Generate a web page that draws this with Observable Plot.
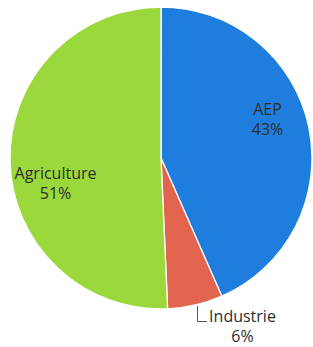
<!DOCTYPE html>
<html>
<head>
<meta charset="utf-8">
<script src="https://cdn.jsdelivr.net/npm/d3@7"></script>
<script src="https://cdn.jsdelivr.net/npm/@observablehq/plot@0.6"></script>
<style>
  html, body { margin: 0; padding: 0; background: #ffffff; }
  svg { display: block; }
</style>
</head>
<body>
<div id="chart"></div>
<script>
// ---- data ----
const categories = ["AEP", "Industrie", "Agriculture"];
const shares = [43.4, 5.9, 50.7];          // percent
const colors = ["#1f7edd", "#e2634e", "#9bd83c"];

// ---- layout (pixel space) ----
const W = 313, H = 347;
const CX = 161, CY = 158, R = 151;
// label centre offsets from the pie centre, per category
const labelOffset = {
  "AEP": [106, -40],
  "Industrie": [81, 167],
  "Agriculture": [-106, 24]
};

const rows = categories.map((c, i) => ({category: c, share: shares[i]}));
const arcs = d3.pie().sort(null).value(d => d.share)(rows);

const ind = labelOffset["Industrie"];
const leader = [
  {x: CX + ind[0] - 45, y: CY + ind[1] - 19},
  {x: CX + ind[0] - 45, y: CY + ind[1] - 4},
  {x: CX + ind[0] - 36, y: CY + ind[1] - 4}
];

const pieMark = (index, scales) => {
  const cx = scales.x(CX), cy = scales.y(CY);
  const r = Math.abs(scales.x(CX + R) - scales.x(CX));
  const g = d3.create("svg:g").attr("transform", `translate(${cx},${cy})`);
  const arc = d3.arc().innerRadius(0).outerRadius(r);
  g.selectAll("path")
    .data(arcs)
    .join("path")
    .attr("d", arc)
    .attr("fill", d => scales.color(d.data.category))
    .attr("stroke", "#ffffff")
    .attr("stroke-width", 1.3)
    .attr("stroke-linejoin", "round");
  return g.node();
};

const chart = Plot.plot({
  width: W,
  height: H,
  margin: 0,
  style: {background: "#ffffff"},
  x: {domain: [0, W], range: [0, W], axis: null},
  y: {domain: [0, H], range: [0, H], axis: null},
  color: {type: "ordinal", domain: categories, range: colors},
  marks: [
    // registers the colour scale (invisible)
    Plot.dot(rows, {x: () => CX, y: () => CY, fill: "category", r: 0}),
    pieMark,
    Plot.line(leader, {x: "x", y: "y", stroke: "#555555", strokeWidth: 1}),
    Plot.text(rows, {
      x: d => CX + labelOffset[d.category][0],
      y: d => CY + labelOffset[d.category][1],
      text: d => `${d.category}\n${Math.round(d.share)}%`,
      lineHeight: 1.28,
      fontSize: 16,
      fontFamily: "Open Sans",
      fill: "#2e2e2e",
      textAnchor: "middle"
    })
  ]
});

document.getElementById("chart").appendChild(chart);
</script>
</body>
</html>
